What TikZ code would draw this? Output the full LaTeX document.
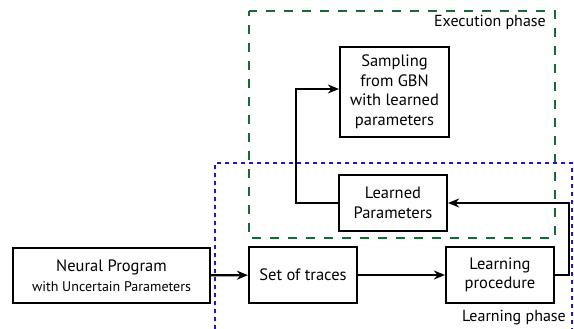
\documentclass[tikz,border=0pt]{standalone}
\usepackage{fontspec}
\setmainfont{PT Sans}
\usetikzlibrary{arrows.meta}
\definecolor{phasegreen}{RGB}{25,105,55}
\definecolor{phaseblue}{RGB}{20,20,235}
\tikzset{
  box/.style={draw=black, line width=2.2pt, align=center, inner sep=0pt, font=\fontsize{16.5}{19.5}\selectfont},
  conn/.style={line width=2.2pt, -{Stealth[length=11pt,width=9pt]}},
  greenbox/.style={draw=phasegreen, line width=2.4pt, dash pattern=on 9pt off 9pt, dash phase=4pt},
  bluebox/.style={draw=phaseblue, line width=2.4pt, dash pattern=on 4pt off 4pt},
  phaselabel/.style={font=\fontsize{16}{19}\selectfont, inner sep=0pt}
}
\begin{document}
\begin{tikzpicture}[x=1pt,y=-1pt]
\useasboundingbox (0,0) rectangle (574,329);
% phase frames
\draw[greenbox] (249,11) rectangle (555,238);
\draw[bluebox] (215,329) -- (215,163) -- (572,163) -- (572,329);
\node[phaselabel, anchor=east] (exlab) at (546,22) {Execution phase};
\node[phaselabel, anchor=east] (lplab) at (566,318) {Learning phase};
% boxes
\node[box, minimum width=109pt, minimum height=90pt] (samp) at (394.5,92) {Sampling\\from GBN\\with learned\\parameters};
\node[box, minimum width=108pt, minimum height=56pt] (lpar) at (393,203) {Learned\\Parameters};
\node[box, minimum width=197pt, minimum height=55pt] (np) at (111.5,275.5) {Neural Program\\{\fontsize{14}{17}\selectfont with Uncertain Parameters}};
\node[box, minimum width=108pt, minimum height=56pt] (sot) at (303,275) {Set of traces};
\node[box, minimum width=108pt, minimum height=56pt] (lproc) at (500,275) {Learning\\procedure};
% connectors
\draw[conn] (np) -- (sot);
\draw[conn] (sot) -- (lproc);
\draw[conn] (lproc.east) -- ++(14,0) |- (lpar.east);
\coordinate (bend) at (296,89);
\draw[conn] (lpar.west) -| (bend) -- (samp.west |- bend);
\end{tikzpicture}
\end{document}
